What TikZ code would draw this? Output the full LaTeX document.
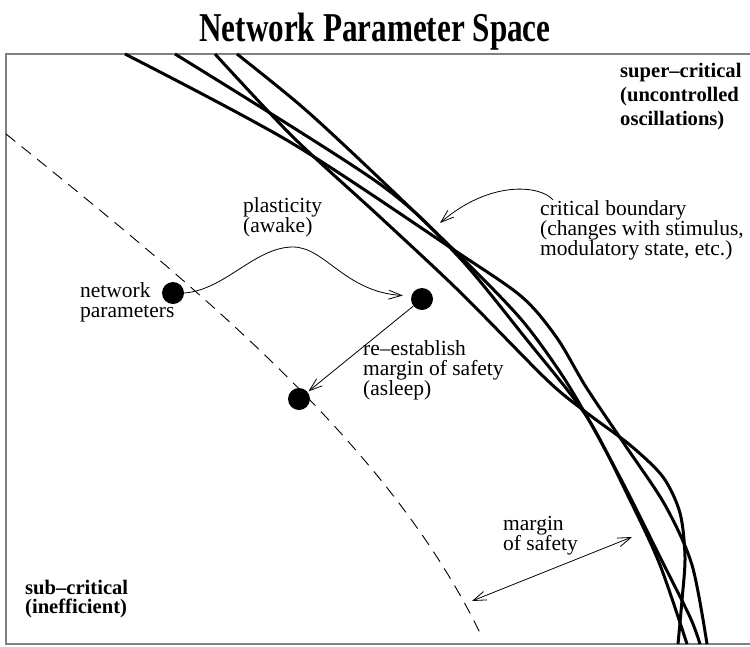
\documentclass[tikz,border=0pt]{standalone}
\usepackage{graphicx}
\usepackage{fontspec}
\setmainfont{Liberation Serif}
\usetikzlibrary{arrows.meta}
\tikzset{
    lbl/.style={anchor=base west, align=left, inner sep=0pt, font=\fontsize{21.5}{20}\selectfont},
    boldlbl/.style={lbl, font=\fontsize{20.6}{24}\selectfont\bfseries},
    pdot/.style={circle, fill=black, minimum size=22pt, inner sep=0pt},
    bound/.style={line width=3pt, line join=round},
    barb/.style={-{Straight Barb[length=13pt,width=9pt]}, line width=0.8pt},
    dbarb/.style={{Straight Barb[length=13pt,width=9pt]}-{Straight Barb[length=13pt,width=9pt]}, line width=0.8pt},
}
\newcommand{\boundary}[1]{%
    \draw[bound] plot[smooth, tension=0.5] coordinates {#1};
}

\begin{document}
\begin{tikzpicture}[x=1pt, y=-1pt]
    \useasboundingbox (0,0) rectangle (750,646);
    \node[anchor=base] (title) at (375,41) {\scalebox{0.76}[1]{\fontsize{41}{41}\selectfont\bfseries Network Parameter Space}};
    \draw[gray, line width=2pt] (750,54) -- (6,54) -- (6,644) -- (750,644);
    % sub-critical edge
    \draw[dash pattern=on 12pt off 8pt, line width=0.9pt] (6,134) .. controls (200,290) and (390,445) .. (482,637);
    % critical boundary, four versions
    \boundary{(125,54) (290,142) (457,252) (522,297) (557,338) (586,387) (625,445) (665,505) (692,565) (707,644)}
    \boundary{(175,54) (377,182) (457,255) (527,340) (587,417) (630,500) (660,565) (687,644)}
    \boundary{(215,54) (293,137) (380,217) (460,292) (547,380) (587,413) (630,445) (663,477) (680,513) (685,557) (682,600) (678,644)}
    \boundary{(237,54) (300,105) (360,160) (457,253) (520,318) (560,372) (590,422) (625,487) (660,557) (690,617) (700,644)}
    \node[pdot] (net) at (173,293) {};
    \node[pdot] (awake) at (422,299) {};
    \node[pdot] (asleep) at (299,399) {};
    \node[lbl] (netlbl) at (80,317) {network\\parameters};
    \node[lbl] (plast) at (243,232) {plasticity\\(awake)};
    \node[lbl] (reest) at (363,395) {re--establish\\margin of safety\\(asleep)};
    \node[lbl] (crit) at (540,255) {critical boundary\\(changes with stimulus,\\modulatory state, etc.)};
    \node[lbl] (margin) at (503,550) {margin\\of safety};
    \node[boldlbl] (super) at (620,125) {super--critical\\(uncontrolled\\oscillations)};
    \node[boldlbl, font=\fontsize{20.6}{19}\selectfont\bfseries] (sub) at (25,613) {sub--critical\\(inefficient)};
    \coordinate (critend) at (440,223);
    \coordinate (safein) at (472,601);
    \coordinate (safeout) at (632,537);
    \draw[barb, shorten >=8pt] (net.east) .. controls (225,290) and (255,247) .. (293,247) .. controls (325,247) and (345,292) .. ([yshift=3pt]awake.west);
    \draw[barb, shorten >=1pt] (awake) -- (asleep);
    \draw[barb] ([xshift=13pt]crit.north west) .. controls (540,185) and (490,180) .. (critend);
    \draw[dbarb] (safein) -- (safeout);
\end{tikzpicture}
\end{document}
